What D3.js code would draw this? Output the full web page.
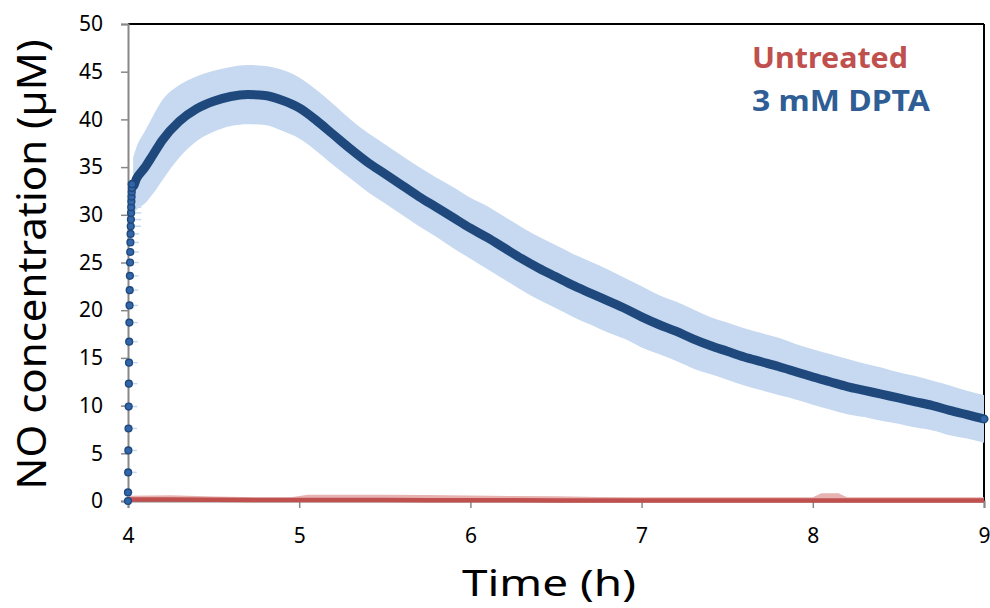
<!DOCTYPE html>
<html>
<head>
<meta charset="utf-8">
<script src="https://cdn.jsdelivr.net/npm/d3@7"></script>
<style>
  body { margin: 0; background: #fff; }
  svg { display: block; font-family: "Noto Sans", "Open Sans", sans-serif; }
</style>
</head>
<body>
<svg id="chart" width="990" height="608"></svg>
<script>
// --- data ---
// fast rise right after DPTA addition (sparse samples, drawn as dots)
const riseTime = [4.000, 4.000, 4.001, 4.002, 4.003, 4.004, 4.005, 4.006, 4.007, 4.008, 4.009, 4.010, 4.011,
                  4.012, 4.013, 4.014, 4.015, 4.016, 4.017, 4.018, 4.019, 4.020, 4.021, 4.022, 4.023, 4.024];
const riseNO   = [0, 0.9, 3.0, 5.3, 7.6, 9.9, 12.3, 14.5, 16.7, 18.7, 20.5, 22.1, 23.6,
                  25.0, 26.1, 27.1, 28.0, 28.8, 29.5, 30.2, 30.8, 31.4, 31.9, 32.4, 32.8, 33.2];
const riseErrT = [0.02, 0.03, 0.05, 0.05, 0.05, 0.05, 0.05, 0.05, 0.05, 0.05, 0.05, 0.05, 0.05,
                  0.05, 0.05, 0.05, 0.05, 0.06, 0.06, 0.06, 0.06, 0.06, 0.06, 0.06, 0.06, 0.06];

// 3 mM DPTA mean and sd after the rise
const dptaTime = [4.03, 4.05, 4.1, 4.15, 4.2, 4.3, 4.4, 4.5, 4.6, 4.7, 4.8, 4.9, 5.0, 5.1, 5.2, 5.3, 5.4, 5.5,
                  5.6, 5.7, 5.8, 5.9, 6.0, 6.1, 6.2, 6.3, 6.4, 6.5, 6.6, 6.7, 6.8, 6.9, 7.0, 7.1, 7.2, 7.3,
                  7.4, 7.5, 7.6, 7.7, 7.8, 7.9, 8.0, 8.1, 8.2, 8.3, 8.4, 8.5, 8.6, 8.7, 8.8, 8.9, 9.0];
const dptaNO   = [33.0, 33.8, 35.0, 36.4, 37.8, 39.8, 41.1, 41.9, 42.4, 42.6, 42.5, 42.0, 41.2, 39.9, 38.4, 36.9, 35.5, 34.3,
                  33.1, 31.9, 30.8, 29.7, 28.6, 27.6, 26.5, 25.4, 24.4, 23.5, 22.6, 21.8, 21.0, 20.2, 19.3, 18.5, 17.8, 17.0,
                  16.3, 15.7, 15.1, 14.6, 14.1, 13.55, 13.0, 12.5, 12.0, 11.6, 11.2, 10.8, 10.4, 10.0, 9.5, 9.05, 8.6];
const dptaSd   = [3.0, 3.3, 3.8, 4.1, 4.2, 3.8, 3.4, 3.2, 3.1, 3.1, 3.1, 3.2, 3.2, 3.2, 3.2, 3.1, 3.1, 3.1,
                  3.1, 3.1, 3.1, 3.2, 3.2, 3.3, 3.3, 3.3, 3.3, 3.3, 3.3, 3.3, 3.3, 3.2, 3.2, 3.1, 3.1, 3.1,
                  3.0, 3.0, 3.0, 3.0, 3.0, 2.9, 2.9, 2.9, 2.9, 2.8, 2.8, 2.7, 2.7, 2.6, 2.6, 2.5, 2.5];

// untreated control, stays at ~0
const ctrlTime = [4.0, 4.25, 4.5, 4.75, 4.95, 5.05, 5.25, 5.5, 5.75, 6.0, 6.25, 6.5, 6.75, 7.0, 7.25, 7.5, 7.75, 8.0, 8.05, 8.15, 8.2, 8.5, 8.75, 9.0];
const ctrlNO   = [0.15, 0.15, 0.12, 0.1, 0.1, 0.1, 0.1, 0.1, 0.08, 0.08, 0.08, 0.06, 0.06, 0.05, 0.05, 0.05, 0.05, 0.05, 0.05, 0.05, 0.05, 0.05, 0.05, 0.05];
const ctrlSd   = [0.4, 0.45, 0.35, 0.3, 0.3, 0.55, 0.55, 0.55, 0.55, 0.5, 0.45, 0.45, 0.35, 0.35, 0.35, 0.35, 0.35, 0.35, 0.75, 0.75, 0.35, 0.35, 0.35, 0.35];

const xTicks = [4, 5, 6, 7, 8, 9];
const yTicks = [0, 5, 10, 15, 20, 25, 30, 35, 40, 45, 50];
const legendLabels = ["Untreated", "3 mM DPTA"];

// --- layout ---
const svg = d3.select("#chart");
const plotLeft = 128, plotRight = 984, plotTop = 24, plotBottom = 501;

const x = d3.scaleLinear().domain([4, 9]).range([plotLeft, plotRight]);
const y = d3.scaleLinear().domain([0, 50]).range([plotBottom, plotTop]);

const darkBlue = "#1f497d", lightBlue = "#c6d9f0", dotBlue = "#3366a8";
const red = "#c0504d", lightRed = "#e6b3b2";

// top and right frame
svg.append("line").attr("x1", plotLeft).attr("x2", plotRight).attr("y1", plotTop).attr("y2", plotTop)
    .attr("stroke", "#000").attr("stroke-width", 2);
svg.append("line").attr("x1", plotRight).attr("x2", plotRight).attr("y1", plotTop).attr("y2", plotBottom)
    .attr("stroke", "#000").attr("stroke-width", 2);

// axes
const yAxis = svg.append("g").attr("transform", `translate(${plotLeft},0)`)
    .call(d3.axisLeft(y).tickValues(yTicks).tickSize(7).tickPadding(18));
const xAxis = svg.append("g").attr("transform", `translate(0,${plotBottom})`)
    .call(d3.axisBottom(x).tickValues(xTicks).tickFormat(d3.format("d")).tickSize(7).tickPadding(20));
[yAxis, xAxis].forEach(g => {
    g.select(".domain").attr("stroke", "#888").attr("stroke-width", 2);
    g.selectAll(".tick line").attr("stroke", "#888").attr("stroke-width", 1.5);
    g.selectAll(".tick text").attr("font-size", 21).attr("fill", "#000")
        .attr("font-family", "'Noto Sans', sans-serif");
});

// DPTA band
const dpta = dptaTime.map((t, i) => ({t: t, v: dptaNO[i], sd: dptaSd[i]}));
svg.append("path").datum(dpta)
    .attr("fill", lightBlue)
    .attr("d", d3.area().curve(d3.curveMonotoneX)
        .x(d => x(d.t)).y0(d => y(d.v - d.sd)).y1(d => y(d.v + d.sd)));

// control band + line
const ctrl = ctrlTime.map((t, i) => ({t: t, v: ctrlNO[i], sd: ctrlSd[i]}));
svg.append("path").datum(ctrl)
    .attr("fill", lightRed)
    .attr("d", d3.area().x(d => x(d.t)).y0(y(0)).y1(d => y(d.v + d.sd)));
svg.append("path").datum(ctrl)
    .attr("fill", "none").attr("stroke", red).attr("stroke-width", 4.5)
    .attr("d", d3.line().x(d => x(d.t)).y(d => y(d.v)));

// rise: error whiskers then dots
const rise = riseTime.map((t, i) => ({t: t, v: riseNO[i], e: riseErrT[i]}));
svg.append("g").selectAll("line").data(rise).join("line")
    .attr("x1", d => x(d.t)).attr("x2", d => x(d.t + d.e))
    .attr("y1", d => y(d.v)).attr("y2", d => y(d.v))
    .attr("stroke", lightBlue).attr("stroke-width", 1.5);

// DPTA mean line (dense markers in the original)
const linePts = [rise[rise.length - 1]].concat(dpta);
svg.append("path").datum(linePts)
    .attr("fill", "none").attr("stroke", darkBlue).attr("stroke-width", 9)
    .attr("stroke-linecap", "round").attr("stroke-linejoin", "round")
    .attr("d", d3.line().curve(d3.curveMonotoneX).x(d => x(d.t)).y(d => y(d.v)));

svg.append("g").selectAll("circle").data(rise).join("circle")
    .attr("cx", d => x(d.t)).attr("cy", d => y(d.v)).attr("r", 3.4)
    .attr("fill", dotBlue).attr("stroke", darkBlue).attr("stroke-width", 1.4);

const last = dpta[dpta.length - 1];
svg.append("circle").attr("cx", x(last.t)).attr("cy", y(last.v)).attr("r", 3)
    .attr("fill", dotBlue);

// axis titles
svg.append("text")
    .attr("transform", `translate(46,${(plotTop + plotBottom) / 2 + 2}) rotate(-90)`)
    .attr("text-anchor", "middle")
    .attr("font-size", 40)
    .attr("textLength", 450).attr("lengthAdjust", "spacingAndGlyphs")
    .text("NO concentration (µM)");

svg.append("text")
    .attr("x", (462 + 636) / 2).attr("y", 596)
    .attr("text-anchor", "middle")
    .attr("font-size", 37)
    .attr("textLength", 174).attr("lengthAdjust", "spacingAndGlyphs")
    .text("Time (h)");

// legend
const legendColors = [red, "#2f5d95"];
const legendWidths = [156, 178];
svg.append("g").selectAll("text").data(legendLabels).join("text")
    .attr("x", 752).attr("y", (d, i) => 68 + i * 43)
    .attr("font-size", 29).attr("font-weight", "bold")
    .attr("fill", (d, i) => legendColors[i])
    .attr("textLength", (d, i) => legendWidths[i]).attr("lengthAdjust", "spacingAndGlyphs")
    .text(d => d);
</script>
</body>
</html>
